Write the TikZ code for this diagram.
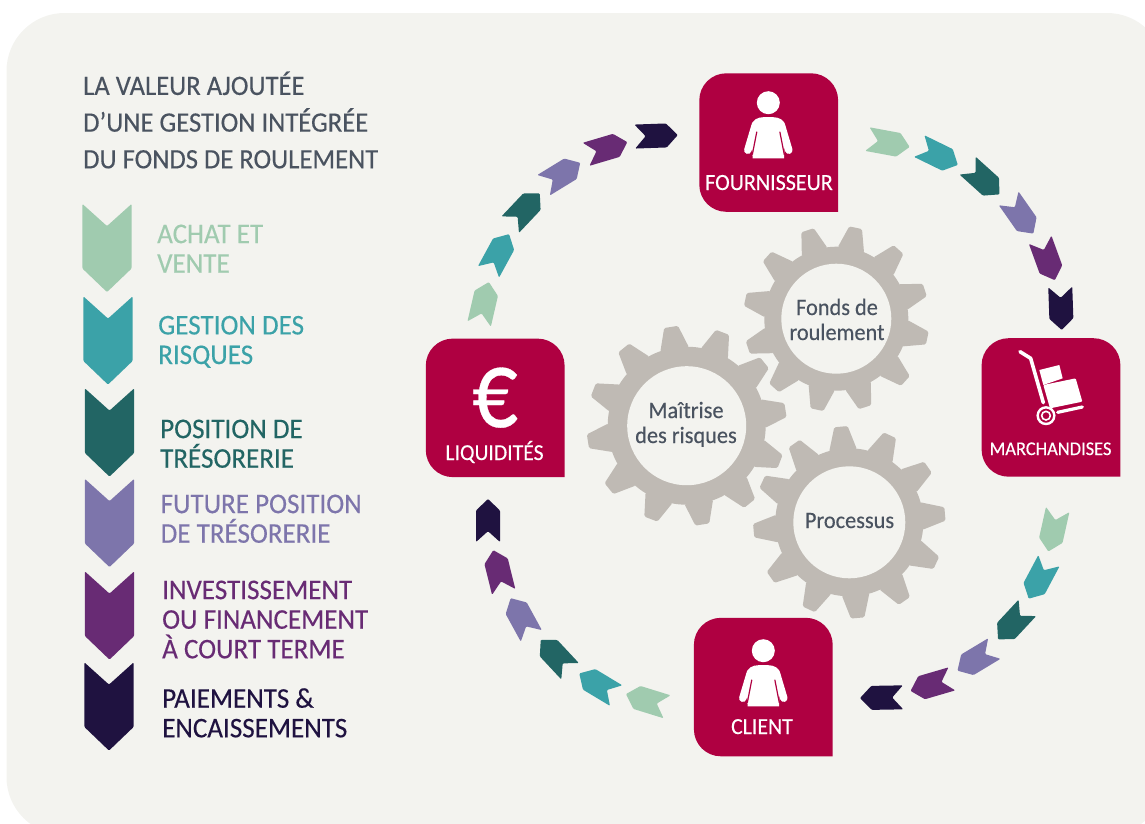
\documentclass[tikz,border=0pt]{standalone}
\usepackage{fontspec}
\setmainfont[FakeStretch=0.95,FakeBold=0.3]{Carlito}
\definecolor{bgpanel}{HTML}{F3F3EF}
\definecolor{crimson}{HTML}{AF0041}
\definecolor{gearfill}{HTML}{BFBAB4}
\definecolor{titlegray}{HTML}{4A5360}
\definecolor{colachat}{HTML}{A0CBAF}
\definecolor{colgestion}{HTML}{3BA2A8}
\definecolor{colposition}{HTML}{226564}
\definecolor{colfuture}{HTML}{7D75AB}
\definecolor{colinvest}{HTML}{682B74}
\definecolor{colpaiement}{HTML}{1F1240}
\tikzset{
  titletext/.style={anchor=base west,align=left,inner sep=0pt,text=titlegray,font=\fontsize{28}{36.7}\selectfont},
  legendtext/.style={anchor=base west,align=left,inner sep=0pt,text=#1,font=\fontsize{28.5}{29.6}\selectfont},
  boxlabel/.style={anchor=base,inner sep=0pt,text=white,font=\fontsize{#1}{#1}\selectfont},
  gearlabel/.style={anchor=base,align=center,inner sep=0pt,text=titlegray,font=\fontsize{23.5}{25}\selectfont},
  redbox/.style={fill=crimson}
}
% chevron: colour, centre, direction, scale
\newcommand{\chev}[4]{
  \fill[#1,shift={(#2)},rotate=#3,scale=#4,rounded corners=1pt]
    (-21.5,12) -- (-10.7,0) -- (-21.5,-12) -- (10,-12) -- (21.5,0) -- (10,12) -- cycle;
}
% gear: centre, hole, root radius, outer radius, first tooth
\newcommand{\gear}[5]{
  \fill[gearfill] (#1) circle (#3);
  \foreach \a in {0,30,...,330}
    \fill[gearfill,shift={(#1)},rotate=#5+\a,rounded corners=1.5pt]
      (#3-2,{-.145*#4}) -- (#4,{-.07*#4}) -- (#4,{.07*#4}) -- (#3-2,{.145*#4}) -- cycle;
  \fill[bgpanel] (#1) circle (#2);
}
\newcommand{\roundbox}[2]{
  \fill[redbox,shift={(#1,#2)}] (138.8,138.5) -- (138.8,100) [rounded corners=27pt] -- (138.8,0) -- (0,0) -- (0,138.5) -- (60,138.5) [sharp corners] -- cycle;
}
\newcommand{\person}[2]{
  \begin{scope}[shift={(#1,#2)}]
    \fill[white] (0,0) circle (11.5);
    \draw[white,line width=7.5pt,line cap=round] (-13.5,24) -- (-20.5,47.5);
    \draw[white,line width=7.5pt,line cap=round] (13.5,24) -- (20.5,47.5);
    \fill[white] (-15.7,55.7) -- (-17,24) .. controls (-17,17) and (-10,14.5) .. (-5,14.5)
      -- (5,14.5) .. controls (10,14.5) and (17,17) .. (17,24) -- (15.7,55.7) -- cycle;
    \draw[crimson,line width=1.2pt] (-11.5,29) -- (-16,52);
    \draw[crimson,line width=1.2pt] (11.5,29) -- (16,52);
  \end{scope}
}
\begin{document}
\begin{tikzpicture}[x=1pt,y=-1pt]
  \useasboundingbox (0,0) rectangle (1145,823);
  \fill[bgpanel,rounded corners=58pt] (6.5,13) rectangle (1165,835);

  \node[titletext] (title) at (83,168.3) {LA VALEUR AJOUTÉE\\D’UNE GESTION INTÉGRÉE\\DU FONDS DE ROULEMENT};

  % legend
  \chev{colachat}{107,248}{-90}{2.05}
  \chev{colgestion}{108,340.5}{-90}{2.05}
  \chev{colposition}{109.5,432.5}{-90}{2.05}
  \chev{colfuture}{109.5,523}{-90}{2.05}
  \chev{colinvest}{109.5,615.5}{-90}{2.05}
  \chev{colpaiement}{109,706.5}{-90}{2.05}
  \node[legendtext=colachat] (achat) at (157,272.7) {ACHAT ET\\VENTE};
  \node[legendtext=colgestion] (gestion) at (158,364) {GESTION DES\\RISQUES};
  \node[legendtext=colposition] (position) at (160,467.7) {POSITION DE\\TRÉSORERIE};
  \node[legendtext=colfuture] (future) at (160.5,542.7) {FUTURE POSITION\\DE TRÉSORERIE};
  \node[legendtext=colinvest] (invest) at (162,658.3) {INVESTISSEMENT\\OU FINANCEMENT\\À COURT TERME};
  \node[legendtext=colpaiement] (paiement) at (162,737.3) {PAIEMENTS \&\\ENCAISSEMENTS};

  % gears
  \gear{836.3,318.7}{55}{72}{93}{18}
  \gear{686.7,425.7}{59.5}{79}{100}{9}
  \gear{849.3,522.3}{56}{74}{96}{5}
  \node[gearlabel] (fonds) at (837,340) {Fonds de\\roulement};
  \node[gearlabel] (maitrise) at (686,443) {Maîtrise\\des risques};
  \node[gearlabel] (processus) at (849.5,528) {Processus};

  % boxes
  \roundbox{699.3}{73.3}
  \roundbox{981.6}{338.2}
  \roundbox{425.8}{338.6}
  \roundbox{693.9}{617.8}
  \person{768.3}{102.7}
  \person{763.3}{650.7}
  \node[boxlabel=23.2] (fournisseur) at (769,190) {FOURNISSEUR};
  \node[boxlabel=19.4] (marchandises) at (1050.5,455) {MARCHANDISES};
  \node[boxlabel=22.8] (liquidites) at (494.5,460) {LIQUIDITÉS};
  \node[boxlabel=23] (client) at (762,734) {CLIENT};
  \node[anchor=base,inner sep=0pt,xscale=.85,text=white,font=\fontsize{112}{112}\selectfont] (euro) at (495,427) {€};

  % trolley
  \begin{scope}[shift={(960,330)},scale=.3333]
    \draw[white,line width=3.6pt,line cap=round,line join=round] (180,65) -- (212,85) -- (250,218);
    \fill[white] (238,120) -- (298,105) -- (308,145) -- (250,165) -- cycle;
    \fill[white,rounded corners=1pt] (250,165) -- (347,145) -- (367,215) -- (270,235) -- cycle;
    \draw[white,line width=3.2pt,line cap=round] (293,247) -- (367,231);
    \draw[white,line width=2.4pt] (258,257) circle (25);
    \draw[white,line width=1.6pt] (258,257) circle (13);
  \end{scope}

  % top right arc
  \chev{colachat}{888.5,143}{-10.5}{1}
  \chev{colgestion}{938.5,155.5}{-26}{1}
  \chev{colposition}{983.5,180}{-42}{1}
  \chev{colfuture}{1021,216}{-55}{1}
  \chev{colinvest}{1047.5,260}{-70}{1}
  \chev{colpaiement}{1061,308.5}{-88}{1}
  % bottom right arc
  \chev{colachat}{1053,530.5}{-102.6}{1}
  \chev{colgestion}{1038.8,579.7}{-118}{1}
  \chev{colposition}{1012.7,623.6}{-133}{1}
  \chev{colfuture}{975.9,659.6}{-149}{1}
  \chev{colinvest}{931.2,684.9}{-163.7}{1}
  \chev{colpaiement}{881.5,697.7}{-179}{1}
  % bottom left arc
  \chev{colachat}{646.5,700.4}{162.8}{1}
  \chev{colgestion}{597.7,684.5}{149}{1}
  \chev{colposition}{555.4,655.5}{133}{1}
  \chev{colfuture}{521,617}{118.7}{1}
  \chev{colinvest}{498.5,571}{104}{1}
  \chev{colpaiement}{488,520.5}{90}{1}
  % top left arc
  \chev{colachat}{484,303}{77}{1}
  \chev{colgestion}{498.8,253}{61.4}{1}
  \chev{colposition}{525,209}{46.6}{1}
  \chev{colfuture}{561.9,174}{31.5}{1}
  \chev{colinvest}{606.7,148.2}{16.5}{1}
  \chev{colpaiement}{656.3,135.8}{2}{1}
\end{tikzpicture}
\end{document}
